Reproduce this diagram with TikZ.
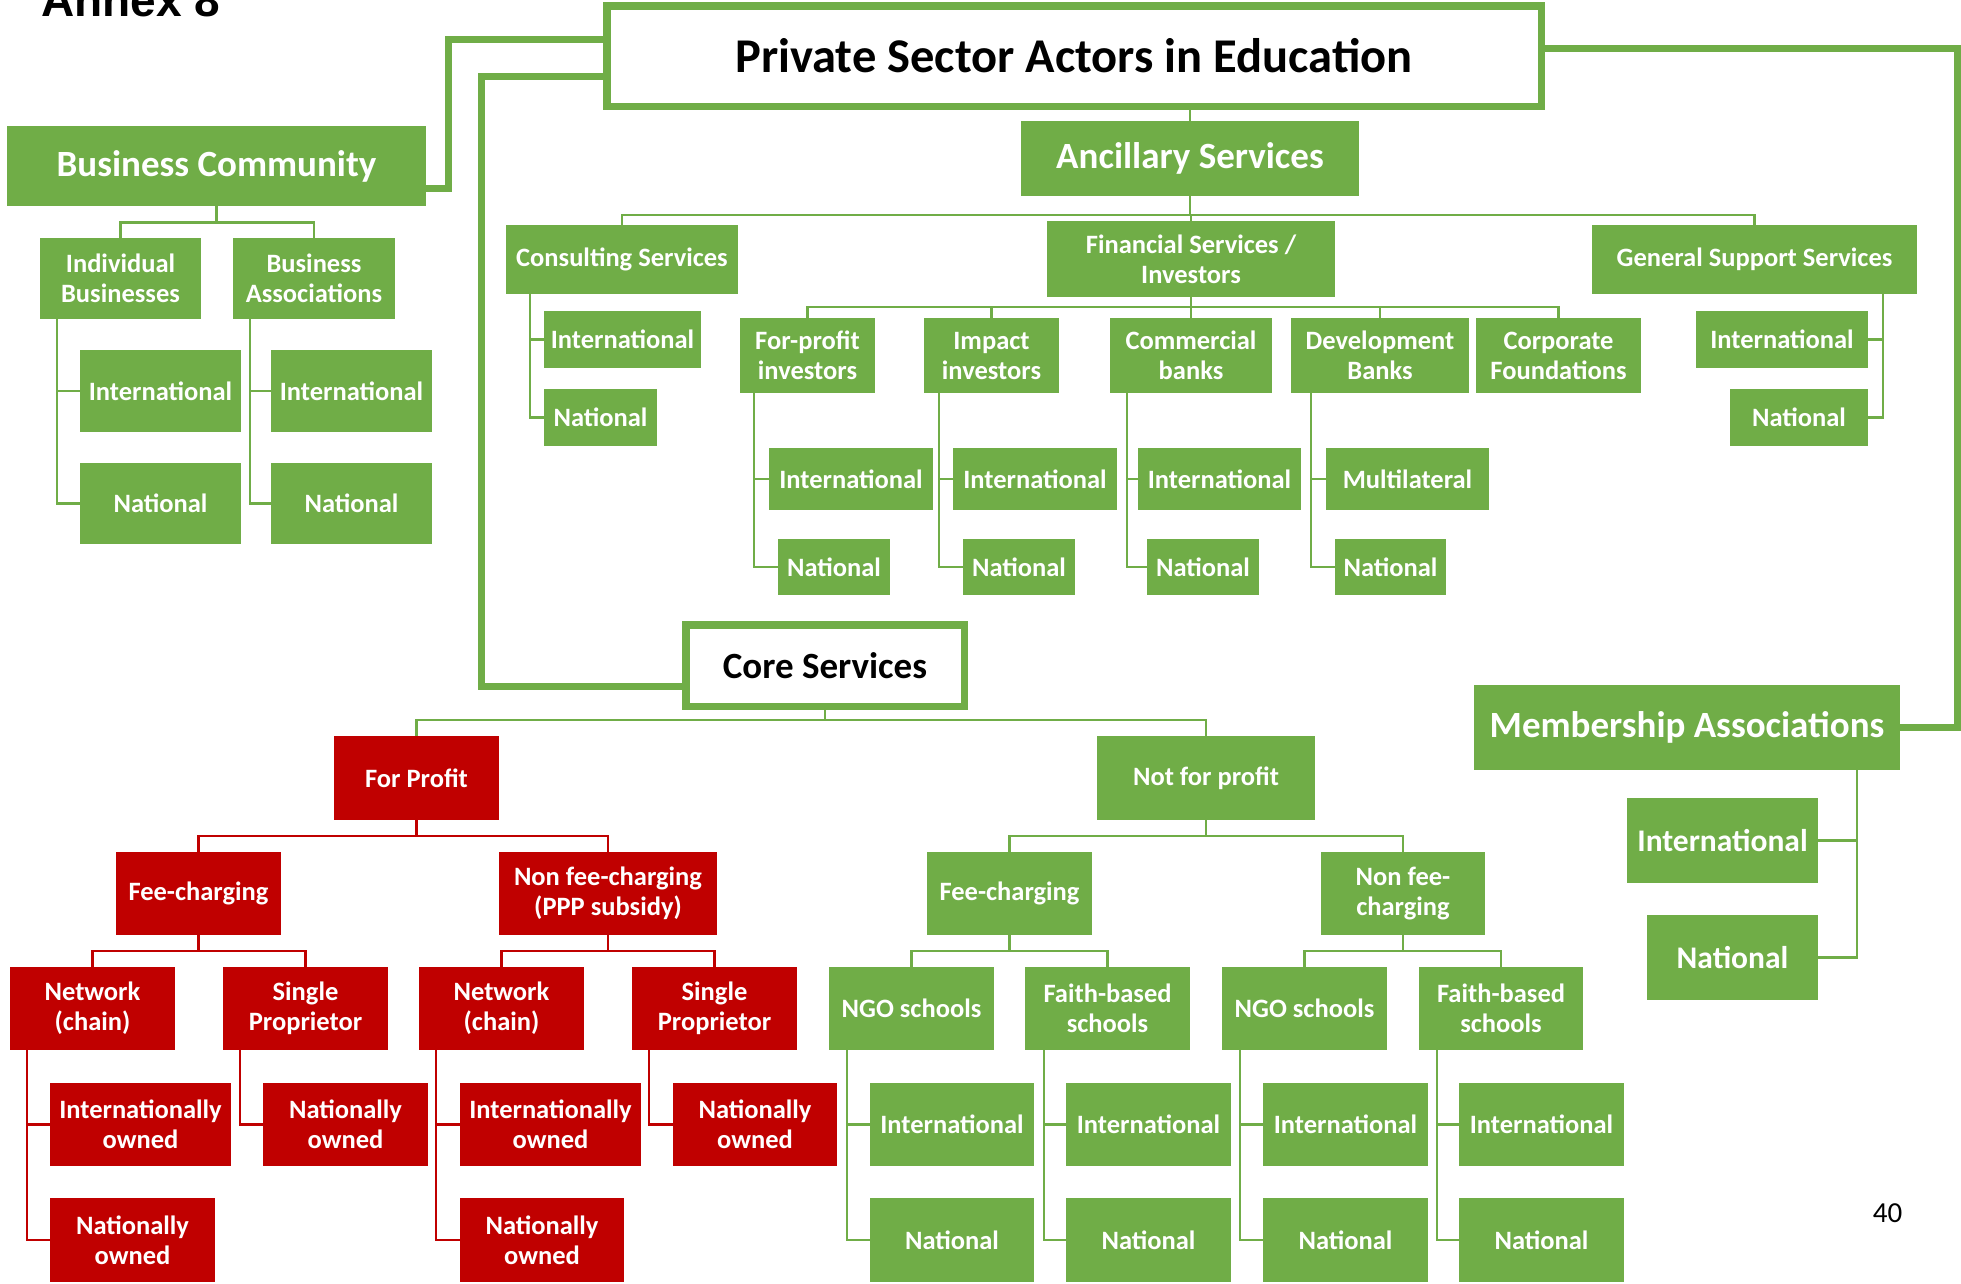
\documentclass[tikz,border=0pt]{standalone}
\usepackage{fontspec}
\setmainfont{Carlito}
\newfontfamily\annexfont{Liberation Sans}
\definecolor{G}{RGB}{112,173,71}
\definecolor{R}{RGB}{192,0,0}
\newcommand{\mkbox}[7]{\node[#2, minimum width={(#5)-(#3)}, minimum height={(#6)-(#4)}] (#1) at ({((#3)+(#5))/2},{((#4)+(#6))/2}) {#7};}
\newcommand{\fork}[4]{%
  \draw[#1] (#2.south) -- ++(0,#3) coordinate (#2-j);
  \foreach \c in {#4} {\draw[#1] (#2-j) -| (\c.north);}}
\newcommand{\sidel}[4]{\foreach \c in {#4} {\draw[#1] ([xshift=#3pt]#2.south west) |- (\c.west);}}
\newcommand{\sider}[4]{\foreach \c in {#4} {\draw[#1] ([xshift=-#3pt]#2.south east) |- (\c.east);}}
\tikzset{
  gbox/.style={fill=G, text=white, font=\bfseries\fontsize{26.5}{30}\selectfont, align=center, inner sep=0pt, outer sep=0pt},
  rbox/.style={gbox, fill=R},
  bigbox/.style={gbox, font=\bfseries\fontsize{37}{44}\selectfont},
  mbox/.style={gbox, font=\bfseries\fontsize{31.5}{36}\selectfont},
  outlinebox/.style={draw=G, line width=7.5pt, fill=white, text=black, align=center, inner sep=0pt, outer sep=0pt},
  gl/.style={draw=G, line width=2.8pt},
  rl/.style={draw=R, line width=2.8pt},
  tl/.style={draw=G, line width=7pt},
}
\begin{document}
\begin{tikzpicture}[x=1pt,y=-1pt]
\useasboundingbox (0,0) rectangle (1961,1283);
\node[font=\annexfont\bfseries\fontsize{46}{54}\selectfont, anchor=base west, inner sep=0pt] (annex) at (41,16) {Annex 8};
% main boxes
\mkbox{title}{outlinebox, font=\bfseries\fontsize{48.5}{56}\selectfont}{606.75}{5.75}{1541.25}{106.25}{Private Sector Actors in Education}
\mkbox{bc}{bigbox}{7}{126}{426}{206}{Business Community}
\mkbox{anc}{bigbox}{1021}{121}{1359}{196}{Ancillary Services}
\mkbox{core}{outlinebox, font=\bfseries\fontsize{37}{44}\selectfont}{685.75}{624.75}{964.25}{706.25}{Core Services}
\mkbox{ma}{bigbox}{1474}{685}{1900}{770}{Membership Associations}
\mkbox{mai}{mbox}{1627}{798}{1818}{883}{International}
\mkbox{man}{mbox}{1647}{915}{1818}{1000}{National}
% business community
\mkbox{ib}{gbox}{40}{238}{201}{319}{Individual\\Businesses}
\mkbox{ba}{gbox}{233}{238}{395}{319}{Business\\Associations}
\mkbox{ibi}{gbox}{80}{350}{241}{432}{International}
\mkbox{ibn}{gbox}{80}{463}{241}{544}{National}
\mkbox{bai}{gbox}{271}{350}{432}{432}{International}
\mkbox{ban}{gbox}{271}{463}{432}{544}{National}
% ancillary
\mkbox{cs}{gbox}{506}{225}{738}{294}{Consulting Services}
\mkbox{fin}{gbox}{1047}{221}{1335}{297}{Financial Services /\\Investors}
\mkbox{gs}{gbox}{1592}{225}{1917}{294}{General Support Services}
\mkbox{csi}{gbox}{544}{311}{701}{368}{International}
\mkbox{csn}{gbox}{544}{389}{657}{446}{National}
\mkbox{gsi}{gbox}{1696}{311}{1868}{368}{International}
\mkbox{gsn}{gbox}{1730}{389}{1868}{446}{National}
\mkbox{fpi}{gbox}{740}{318}{875}{393}{For-profit\\investors}
\mkbox{ii}{gbox}{924}{318}{1059}{393}{Impact\\investors}
\mkbox{cb}{gbox}{1110}{318}{1272}{393}{Commercial\\banks}
\mkbox{db}{gbox}{1291}{318}{1469}{393}{Development\\Banks}
\mkbox{cf}{gbox}{1476}{318}{1641}{393}{Corporate\\Foundations}
\mkbox{fpii}{gbox}{769}{448}{933}{510}{International}
\mkbox{fpin}{gbox}{778}{539}{890}{595}{National}
\mkbox{iii}{gbox}{953}{448}{1117}{510}{International}
\mkbox{iin}{gbox}{963}{539}{1075}{595}{National}
\mkbox{cbi}{gbox}{1138}{448}{1301}{510}{International}
\mkbox{cbn}{gbox}{1147}{539}{1259}{595}{National}
\mkbox{dbm}{gbox}{1326}{448}{1489}{510}{Multilateral}
\mkbox{dbn}{gbox}{1335}{539}{1446}{595}{National}
% core: for profit
\mkbox{fp}{rbox}{334}{736}{499}{820}{For Profit}
\mkbox{fc}{rbox}{116}{852}{281}{935}{Fee-charging}
\mkbox{nfc}{rbox}{499}{852}{717}{935}{Non fee-charging\\(PPP subsidy)}
\mkbox{net1}{rbox}{10}{967}{175}{1050}{Network\\(chain)}
\mkbox{sp1}{rbox}{223}{967}{388}{1050}{Single\\Proprietor}
\mkbox{net2}{rbox}{419}{967}{584}{1050}{Network\\(chain)}
\mkbox{sp2}{rbox}{632}{967}{797}{1050}{Single\\Proprietor}
\mkbox{io1}{rbox}{50}{1083}{231}{1166}{Internationally\\owned}
\mkbox{no1}{rbox}{50}{1198}{215}{1282}{Nationally\\owned}
\mkbox{no2}{rbox}{263}{1083}{428}{1166}{Nationally\\owned}
\mkbox{io2}{rbox}{460}{1083}{641}{1166}{Internationally\\owned}
\mkbox{no3}{rbox}{460}{1198}{624}{1282}{Nationally\\owned}
\mkbox{no4}{rbox}{673}{1083}{837}{1166}{Nationally\\owned}
% core: not for profit
\mkbox{nfp}{gbox}{1097}{736}{1315}{820}{Not for profit}
\mkbox{fcg}{gbox}{927}{852}{1092}{935}{Fee-charging}
\mkbox{nfcg}{gbox}{1321}{852}{1485}{935}{Non fee-\\charging}
\mkbox{ngo1}{gbox}{829}{967}{994}{1050}{NGO schools}
\mkbox{fb1}{gbox}{1025}{967}{1190}{1050}{Faith-based\\schools}
\mkbox{ngo2}{gbox}{1222}{967}{1387}{1050}{NGO schools}
\mkbox{fb2}{gbox}{1419}{967}{1583}{1050}{Faith-based\\schools}
\mkbox{ngo1i}{gbox}{870}{1083}{1034}{1166}{International}
\mkbox{ngo1n}{gbox}{870}{1198}{1034}{1282}{National}
\mkbox{fb1i}{gbox}{1066}{1083}{1231}{1166}{International}
\mkbox{fb1n}{gbox}{1066}{1198}{1231}{1282}{National}
\mkbox{ngo2i}{gbox}{1263}{1083}{1428}{1166}{International}
\mkbox{ngo2n}{gbox}{1263}{1198}{1428}{1282}{National}
\mkbox{fb2i}{gbox}{1459}{1083}{1624}{1166}{International}
\mkbox{fb2n}{gbox}{1459}{1198}{1624}{1282}{National}
% page number
\node[font=\fontsize{29}{34}\selectfont, inner sep=0pt] (pnum) at (1887.5,1213.5) {40};
% thick links
\coordinate (k1) at (448.5,39.5);
\coordinate (k2) at (481.5,76.5);
\coordinate (k3) at (1957.5,48.5);
\draw[tl] ([yshift=-22.5pt]bc.east) -| (k1) -- (k1 -| title.west);
\draw[tl] (k2 -| title.west) -- (k2) |- ([yshift=-21pt]core.west);
\draw[tl] (k3 -| title.east) -- (k3) |- (ma.east);
% tree connectors
\draw[gl] (anc.north) -- (anc.north |- title.south);
\fork{gl}{bc}{16.5}{ib,ba}
\sidel{gl}{ib}{17}{ibi,ibn}
\sidel{gl}{ba}{17}{bai,ban}
\fork{gl}{anc}{19}{cs,fin,gs}
\sidel{gl}{cs}{24}{csi,csn}
\sider{gl}{gs}{34}{gsi,gsn}
\fork{gl}{fin}{10}{fpi,ii,cb,db,cf}
\sidel{gl}{fpi}{14}{fpii,fpin}
\sidel{gl}{ii}{15}{iii,iin}
\sidel{gl}{cb}{17}{cbi,cbn}
\sidel{gl}{db}{20}{dbm,dbn}
\sider{gl}{ma}{43}{mai,man}
\fork{gl}{core}{13.75}{fp,nfp}
\fork{rl}{fp}{16}{fc,nfc}
\fork{rl}{fc}{16}{net1,sp1}
\fork{rl}{nfc}{16}{net2,sp2}
\sidel{rl}{net1}{17}{io1,no1}
\sidel{rl}{sp1}{17}{no2}
\sidel{rl}{net2}{17}{io2,no3}
\sidel{rl}{sp2}{17}{no4}
\fork{gl}{nfp}{16}{fcg,nfcg}
\fork{gl}{fcg}{16}{ngo1,fb1}
\fork{gl}{nfcg}{16}{ngo2,fb2}
\sidel{gl}{ngo1}{18}{ngo1i,ngo1n}
\sidel{gl}{fb1}{19}{fb1i,fb1n}
\sidel{gl}{ngo2}{18}{ngo2i,ngo2n}
\sidel{gl}{fb2}{18}{fb2i,fb2n}
\end{tikzpicture}
\end{document}
